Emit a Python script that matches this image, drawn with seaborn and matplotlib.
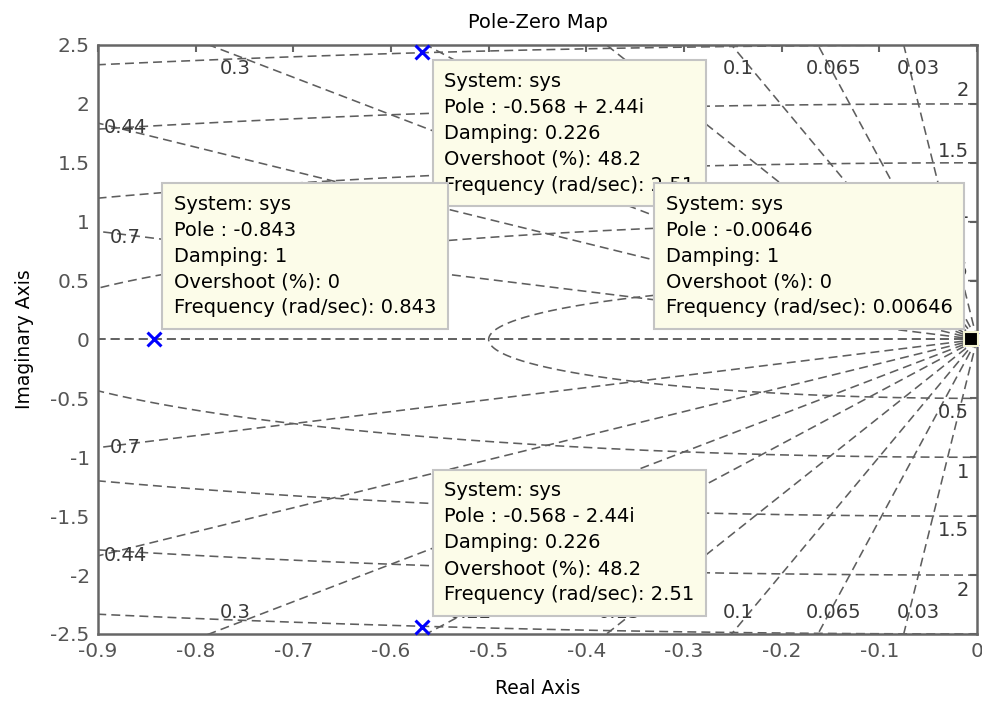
import numpy as np
import pandas as pd
import matplotlib
matplotlib.use("Agg")
import matplotlib.pyplot as plt
import seaborn as sns

# Poles of sys (real, imaginary) and their data-tip readouts
pole_re = [-0.568, -0.568, -0.843, -0.00646]
pole_im = [2.44, -2.44, 0.0, 0.0]
pole_damping = [0.226, 0.226, 1, 1]
pole_overshoot = [48.2, 48.2, 0, 0]
pole_freq = [2.51, 2.51, 0.843, 0.00646]

# s-plane grid: constant damping rays and constant natural-frequency arcs
zeta_values = [0.03, 0.065, 0.1, 0.15, 0.22, 0.3, 0.44, 0.7, 1.0]
wn_values = [0.5, 1.0, 1.5, 2.0, 2.5]

# Grid labels (damping)
zeta_lbl_txt = ["0.3", "0.44", "0.7", "0.1", "0.065", "0.03", "0.15", "0.22",
                "0.3", "0.44", "0.7", "0.1", "0.065", "0.03", "0.15", "0.22"]
zeta_lbl_x = [-0.76, -0.872, -0.872, -0.245, -0.147, -0.06, -0.366, -0.519,
              -0.76, -0.872, -0.872, -0.245, -0.147, -0.06, -0.366, -0.519]
zeta_lbl_y = [2.30, 1.80, 0.87, 2.30, 2.30, 2.30, 2.30, 2.30,
              -2.32, -1.837, -0.918, -2.32, -2.32, -2.32, -2.32, -2.32]

# Grid labels (natural frequency)
wn_lbl_txt = ["2", "1.5", "1", "0.5", "0.5", "1", "1.5", "2"]
wn_lbl_y = [2.11, 1.60, 1.08, 0.587, -0.62, -1.13, -1.624, -2.134]

# Axis ticks
x_ticks = [-0.9, -0.8, -0.7, -0.6, -0.5, -0.4, -0.3, -0.2, -0.1, 0.0]
x_tick_labels = ["-0.9", "-0.8", "-0.7", "-0.6", "-0.5", "-0.4", "-0.3", "-0.2", "-0.1", "0"]
y_ticks = [-2.5, -2, -1.5, -1, -0.5, 0, 0.5, 1, 1.5, 2, 2.5]
y_tick_labels = ["-2.5", "-2", "-1.5", "-1", "-0.5", "0", "0.5", "1", "1.5", "2", "2.5"]

sns.set_style("white")
plt.rcParams["font.family"] = ["DejaVu Sans"]

AX_GRAY = "#666666"
GRID_GRAY = "#5e5e5e"

fig = plt.figure(figsize=(9.82, 7.02), dpi=100)
ax = fig.add_axes([0.0998, 0.0969, 0.8951, 0.839])

# Build grid line table
rows = []
R = 6.0
uid = 0
for z in zeta_values:
    th = np.arccos(z)
    for sgn in (1, -1):
        rows.append((uid, 0.0, 0.0))
        rows.append((uid, -R * np.cos(th), sgn * R * np.sin(th)))
        uid += 1
phi = np.linspace(np.pi / 2, 3 * np.pi / 2, 721)
for wn in wn_values:
    for p in phi:
        rows.append((uid, wn * np.cos(p), wn * np.sin(p)))
    uid += 1
grid_df = pd.DataFrame(rows, columns=["line", "re", "im"])

sns.lineplot(data=grid_df, x="re", y="im", units="line", estimator=None,
             sort=False, color=GRID_GRAY, linewidth=1.15,
             linestyle=(0, (5.6, 3.2)), legend=False, ax=ax, zorder=1)

# Grid labels
for t, x, y in zip(zeta_lbl_txt, zeta_lbl_x, zeta_lbl_y):
    ax.text(x, y, t, ha="center", va="center", fontsize=14, color="#3a3a3a", zorder=2)
for t, y in zip(wn_lbl_txt, wn_lbl_y):
    ax.text(-0.008, y, t, ha="right", va="center", fontsize=14, color="#3a3a3a", zorder=2)

# Poles
pole_df = pd.DataFrame({"re": pole_re, "im": pole_im})
sns.scatterplot(data=pole_df, x="re", y="im", marker="x", color="blue",
                s=100, linewidth=2.2, ax=ax, zorder=4, clip_on=False, legend=False)

# Selected data-tip marker
ax.plot([pole_re[3]], [pole_im[3]], marker="s", ms=10.5, color="black",
        mec="#f3f3d2", mew=1.5, clip_on=False, zorder=8)

def fmt(v):
    return "{:.3g}".format(v)

def tip_text(i):
    re, im = pole_re[i], pole_im[i]
    if im > 0:
        pole = f"{fmt(re)} + {fmt(im)}i"
    elif im < 0:
        pole = f"{fmt(re)} - {fmt(-im)}i"
    else:
        pole = fmt(re)
    return (f"System: sys\nPole : {pole}\nDamping: {fmt(pole_damping[i])}\n"
            f"Overshoot (%): {fmt(pole_overshoot[i])}\n"
            f"Frequency (rad/sec): {fmt(pole_freq[i])}")

tip_style = dict(boxstyle="square,pad=0.6", fc="#fcfce9", ec="#c4c4c4", lw=1.5)
# (pole index, offset in pixels, ha, va, zorder)
tips = [(0, (22, -20), "left", "top", 5),
        (2, (20, 22), "left", "bottom", 6),
        (3, (-18, 22), "right", "bottom", 6),
        (1, (22, 23), "left", "bottom", 5)]
for i, off, ha, va, zo in tips:
    ax.annotate(tip_text(i), xy=(pole_re[i], pole_im[i]), xycoords="data",
                xytext=off, textcoords="offset pixels", ha=ha, va=va,
                multialignment="left", fontsize=14, linespacing=1.46,
                color="black", bbox=tip_style, zorder=zo, annotation_clip=False)

ax.set_xlim(-0.9, 0.0)
ax.set_ylim(-2.5, 2.5)
ax.set_xticks(x_ticks)
ax.set_xticklabels(x_tick_labels)
ax.set_yticks(y_ticks)
ax.set_yticklabels(y_tick_labels)
ax.tick_params(direction="in", length=5, width=1.5, colors=AX_GRAY,
               labelcolor="#555555", labelsize=14.5, top=True, right=True,
               pad=6)
for s in ax.spines.values():
    s.set_color(AX_GRAY)
    s.set_linewidth(1.8)
    s.set_zorder(3)

ax.set_title("Pole-Zero Map", fontsize=14, color="black", pad=12)
ax.set_xlabel("Real Axis", fontsize=13.5, color="black", labelpad=13)
ax.set_ylabel("Imaginary Axis", fontsize=13.5, color="black", labelpad=12)

fig.savefig("out.png", dpi=100)
